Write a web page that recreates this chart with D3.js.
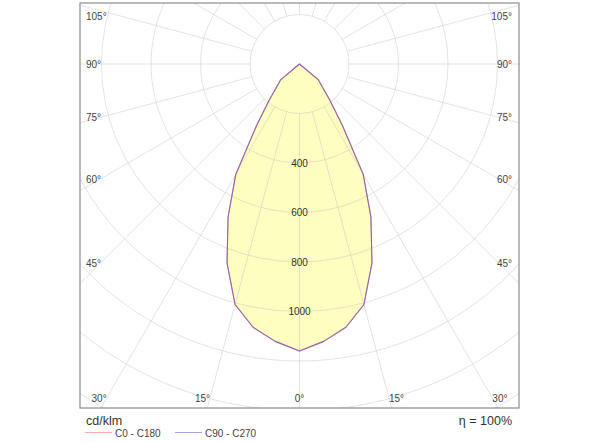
<!DOCTYPE html>
<html>
<head>
<meta charset="utf-8">
<script src="https://cdn.jsdelivr.net/npm/d3@7"></script>
<style>
  html, body { margin: 0; padding: 0; background: #fff; }
  svg { display: block; font-family: "Liberation Sans", Arial, sans-serif; }
</style>
</head>
<body>
<svg id="chart" width="600" height="443"></svg>
<script>
// ---- data ----
const gammaAngles = [0, 5, 10, 15, 20, 25, 30, 35, 40, 45, 50, 55, 60, 65, 70, 75, 80, 85, 90];
const c0c180   = [1160, 1125, 1080, 1006, 856, 683, 515, 300, 190, 130, 100, 0, 0, 0, 0, 0, 0, 0, 0];
const c90c270  = [1160, 1125, 1080, 1006, 856, 683, 515, 300, 190, 130, 100, 0, 0, 0, 0, 0, 0, 0, 0];
const circleValues = [200, 400, 600, 800, 1000, 1200, 1400, 1600];
const circleLabels = [400, 600, 800, 1000];
const angleLabels = [0, 15, 30, 45, 60, 75, 90, 105];
const seriesNames = ["C0 - C180", "C90 - C270"];
const seriesColors = ["#e06c6c", "#5a5ad0"];
const unitLabel = "cd/klm";
const etaLabel = "\u03b7 = 100%";

// ---- layout ----
const svg = d3.select("#chart");
const frame = { x0: 80, y0: 3, x1: 519, y1: 408 };
const cx = 299.5, cy = 64;
const r = d3.scaleLinear().domain([0, 1000]).range([0, 247.5]);
const innerR = r(circleValues[0]);
const toRad = d => d * Math.PI / 180;

svg.append("defs").append("clipPath").attr("id", "clip")
  .append("rect").attr("x", frame.x0).attr("y", frame.y0)
  .attr("width", frame.x1 - frame.x0).attr("height", frame.y1 - frame.y0);

const plot = svg.append("g").attr("clip-path", "url(#clip)");
const g = plot.append("g").attr("transform", `translate(${cx},${cy})`);

function buildPoints(vals) {
  const pts = [];
  for (let i = gammaAngles.length - 1; i >= 0; i--) pts.push([Math.PI + toRad(gammaAngles[i]), r(vals[i])]);
  for (let i = 1; i < gammaAngles.length; i++) pts.push([Math.PI - toRad(gammaAngles[i]), r(vals[i])]);
  return pts;
}
const radial = d3.lineRadial().angle(d => d[0]).radius(d => d[1]).curve(d3.curveLinearClosed);

// fill
g.append("path").attr("d", radial(buildPoints(c90c270)))
  .attr("fill", "#fefec0").attr("stroke", "none");

// grid
const gridColor = "rgba(200,200,200,0.5)";
g.selectAll("circle.grid").data(circleValues).join("circle")
  .attr("class", "grid").attr("r", d => r(d))
  .attr("fill", "none").attr("stroke", gridColor).attr("stroke-width", 1);

const spokeAngles = d3.range(0, 360, 15);
g.selectAll("line.spoke").data(spokeAngles).join("line")
  .attr("class", "spoke")
  .attr("x1", d => innerR * Math.sin(toRad(d)))
  .attr("y1", d => innerR * Math.cos(toRad(d)))
  .attr("x2", d => 700 * Math.sin(toRad(d)))
  .attr("y2", d => 700 * Math.cos(toRad(d)))
  .attr("stroke", gridColor).attr("stroke-width", 1);

// curves
[c0c180, c90c270].forEach((vals, i) => {
  g.append("path").attr("d", radial(buildPoints(vals)))
    .attr("fill", "none").attr("stroke", seriesColors[i])
    .attr("stroke-width", 1.1).attr("stroke-opacity", i === 0 ? 0.9 : 0.6)
    .attr("stroke-linejoin", "round");
});

// value labels
g.selectAll("text.val").data(circleLabels).join("text")
  .attr("class", "val").attr("x", 0).attr("y", d => r(d))
  .attr("dy", "0.35em").attr("text-anchor", "middle")
  .attr("font-size", 10).attr("fill", "#333").text(d => d);

// frame
svg.append("rect").attr("x", frame.x0).attr("y", frame.y0)
  .attr("width", frame.x1 - frame.x0).attr("height", frame.y1 - frame.y0)
  .attr("fill", "none").attr("stroke", "#8c8c8c").attr("stroke-width", 1.2);

// angle labels
const lbl = { left: 100, right: 499, top: 16, bottom: 398, textLeft: 86, textRight: 512 };
const lblG = svg.append("g");
angleLabels.forEach(a => {
  [-1, 1].forEach(side => {
    if (a === 0 && side === 1) return;
    const s = Math.sin(toRad(a)), c = Math.cos(toRad(a));
    let x, y, anchor;
    const tx = s > 1e-9 ? (side < 0 ? (cx - lbl.left) : (lbl.right - cx)) / s : Infinity;
    const ty = c > 1e-9 ? (lbl.bottom - cy) / c : Infinity;
    if (ty <= tx) {
      x = cx + side * ty * s; y = lbl.bottom;
      anchor = a === 0 ? "middle" : (side < 0 ? "end" : "start");
    } else {
      x = side < 0 ? lbl.textLeft : lbl.textRight;
      y = Math.max(lbl.top, cy + tx * c);
      anchor = side < 0 ? "start" : "end";
    }
    lblG.append("text").attr("x", x).attr("y", y).attr("dy", "0.35em")
      .attr("text-anchor", anchor).attr("font-size", 10).attr("fill", "#444")
      .text(a + "\u00b0");
  });
});

// unit and efficiency
svg.append("text").attr("x", 86).attr("y", 421).attr("dy", "0.35em")
  .attr("font-size", 12.5).attr("fill", "#333").text(unitLabel);
svg.append("text").attr("x", 512).attr("y", 421).attr("dy", "0.35em")
  .attr("text-anchor", "end").attr("font-size", 12.5).attr("fill", "#333").text(etaLabel);

// legend
const legX = [85, 175];
seriesNames.forEach((name, i) => {
  svg.append("line").attr("x1", legX[i]).attr("x2", legX[i] + 27)
    .attr("y1", 432.5).attr("y2", 432.5)
    .attr("stroke", seriesColors[i]).attr("stroke-opacity", 0.55).attr("stroke-width", 1);
  svg.append("text").attr("x", legX[i] + 30).attr("y", 433).attr("dy", "0.35em")
    .attr("font-size", 10).attr("fill", "#444").text(name);
});
</script>
</body>
</html>
